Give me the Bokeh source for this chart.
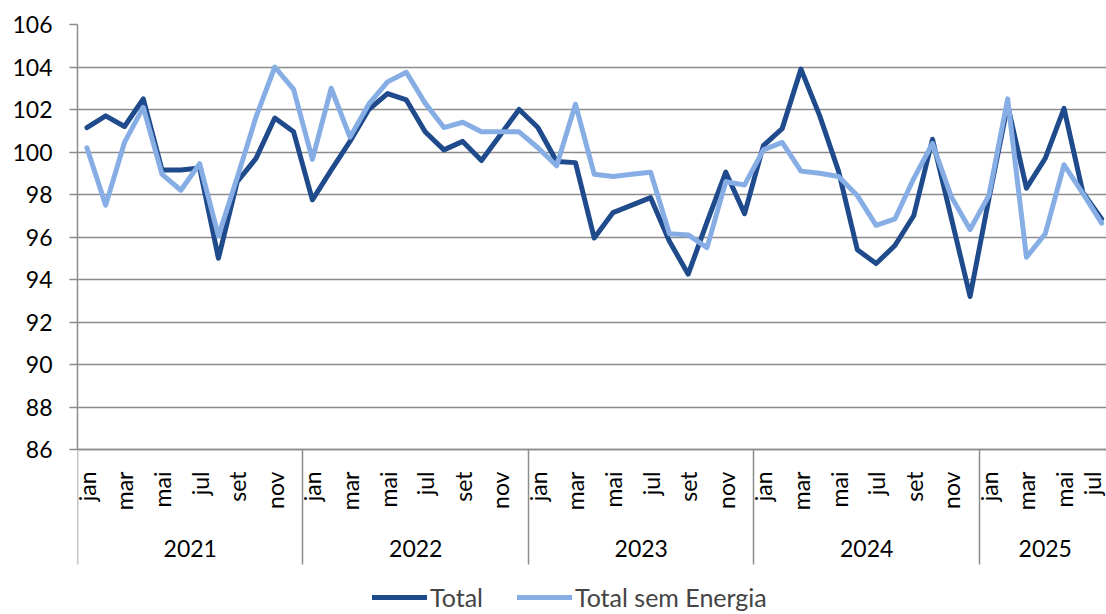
import math
from bokeh.plotting import figure
from bokeh.models import Range1d, FixedTicker, LinearAxis, Legend, LegendItem, Grid
from bokeh.embed import file_html
from bokeh.resources import INLINE

months = ["jan", "fev", "mar", "abr", "mai", "jun", "jul", "ago", "set", "out", "nov", "dez"]
years = ["2021", "2022", "2023", "2024", "2025"]

total = [
    101.15, 101.7, 101.2, 102.5, 99.15, 99.15, 99.25, 95.0, 98.6, 99.7, 101.6, 100.95,
    97.75, 99.15, 100.5, 102.0, 102.75, 102.45, 100.95, 100.1, 100.5, 99.6, 100.8, 102.0,
    101.15, 99.55, 99.5, 95.95, 97.15, 97.5, 97.85, 95.8, 94.25, 96.7, 99.05, 97.1,
    100.3, 101.1, 103.9, 101.7, 99.1, 95.4, 94.75, 95.6, 97.0, 100.6, 96.9, 93.2,
    97.8, 102.2, 98.3, 99.7, 102.05, 98.1, 96.85,
]
sem_energia = [
    100.2, 97.5, 100.45, 102.1, 98.95, 98.2, 99.45, 96.05, 98.8, 101.65, 104.0, 102.95,
    99.65, 103.0, 100.7, 102.25, 103.3, 103.75, 102.3, 101.15, 101.4, 100.95, 100.95, 100.95,
    100.2, 99.35, 102.25, 98.95, 98.85, 98.95, 99.05, 96.15, 96.1, 95.5, 98.6, 98.45,
    100.1, 100.45, 99.1, 99.0, 98.85, 97.95, 96.55, 96.85, 98.75, 100.4, 97.9, 96.35,
    97.95, 102.5, 95.05, 96.15, 99.4, 98.05, 96.65,
]

n = len(total)
xs = [i + 0.5 for i in range(n)]
DARK = "#1F4A8B"
LIGHT = "#86AEE5"
GRAY = "#8C8C8C"
FONT = "Lato"
YMIN, YMAX = 86, 106

p = figure(width=1106, height=612, x_range=Range1d(0, 54.76), y_range=Range1d(78.33, YMAX),
           output_backend="svg", toolbar_location=None,
           x_axis_type=None, y_axis_type=None,
           min_border_left=77, min_border_right=0, min_border_top=24, min_border_bottom=0)
p.outline_line_color = None

yticker = FixedTicker(ticks=list(range(YMIN, YMAX + 1, 2)))
yaxis = LinearAxis(ticker=yticker, bounds=(YMIN, YMAX), major_tick_out=8, major_tick_in=0,
                   minor_tick_line_color=None, axis_line_color=GRAY, axis_line_width=1.5,
                   major_tick_line_color=GRAY, major_tick_line_width=1.5,
                   major_label_text_font=FONT, major_label_text_font_size="23px",
                   major_label_text_color="black", major_label_standoff=17)
p.add_layout(yaxis, "left")
p.add_layout(Grid(dimension=1, ticker=yticker, grid_line_color=GRAY, grid_line_width=1.5))

# month labels (every other month)
mticks = [xs[i] for i in range(0, n, 2)]
moverrides = {xs[i]: months[i % 12] for i in range(0, n, 2)}
xaxis = LinearAxis(ticker=FixedTicker(ticks=mticks, minor_ticks=[]), fixed_location=YMIN,
                   major_label_overrides=moverrides, major_label_orientation=math.pi / 2,
                   major_tick_line_color=None, major_tick_out=0, major_tick_in=0,
                   minor_tick_line_color=None,
                   axis_line_color=GRAY, axis_line_width=1.5,
                   major_label_text_font=FONT, major_label_text_font_size="23px",
                   major_label_text_color="black", major_label_standoff=22)
p.add_layout(xaxis, "below")

# year separators
bounds_x = list(range(0, n, 12))
sepaxis = LinearAxis(ticker=FixedTicker(ticks=bounds_x, minor_ticks=[]), fixed_location=YMIN,
                     major_label_overrides={b: "" for b in bounds_x},
                     major_tick_out=115, major_tick_in=0, major_tick_line_color=GRAY,
                     major_tick_line_width=1.5, minor_tick_line_color=None,
                     axis_line_color=None)
p.add_layout(sepaxis, "below")

# year labels
ycenters = [(b + min(b + 12, n)) / 2 for b in bounds_x]
yearaxis = LinearAxis(ticker=FixedTicker(ticks=ycenters, minor_ticks=[]), fixed_location=YMIN,
                      major_label_overrides={c: y for c, y in zip(ycenters, years)},
                      major_tick_line_color=None, major_tick_out=0, major_tick_in=0,
                      minor_tick_line_color=None, axis_line_color=None,
                      major_label_text_font=FONT, major_label_text_font_size="23px",
                      major_label_text_color="black", major_label_standoff=90)
p.add_layout(yearaxis, "below")

r1 = p.line(xs, total, line_color=DARK, line_width=5, line_join="round", line_cap="round")
r2 = p.line(xs, sem_energia, line_color=LIGHT, line_width=5, line_join="round", line_cap="round")

legend = Legend(items=[LegendItem(label="Total", renderers=[r1]),
                       LegendItem(label="Total sem Energia", renderers=[r2])],
                orientation="horizontal", location=(295, 0),
                label_text_font=FONT, label_text_font_size="25px",
                glyph_width=55, glyph_height=20, label_standoff=3, spacing=34,
                padding=0, margin=0, border_line_color=None, background_fill_alpha=0)
p.add_layout(legend)

open("out.html", "w").write(file_html(p, INLINE))
